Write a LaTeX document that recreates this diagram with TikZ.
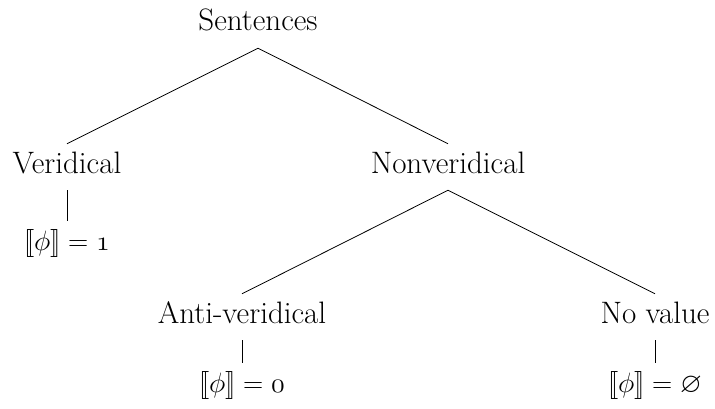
\RequirePackage{fix-cm}
\documentclass[tikz,border=0pt]{standalone}
\usepackage{amssymb}
\usepackage{fontspec}
\setmainfont{Latin Modern Roman}
\newcommand{\dbl}{\mathopen{[\mkern-2.6mu[}}
\newcommand{\dbr}{\mathclose{]\mkern-2.6mu]}}
\begin{document}
\begin{tikzpicture}[x=1pt,y=-1pt,
  lbl/.style={anchor=base, text height=20pt, text depth=8pt, inner sep=9pt,
    font=\fontsize{31}{36}\selectfont},
  val/.style={lbl, font=\fontsize{28}{34}\selectfont},
  edge/.style={draw=black, line width=0.8pt}]
\useasboundingbox (0,0) rectangle (715,409);
\node[lbl] (s) at (258,31) {Sentences};
\node[lbl] (v) at (67,173) {Veridical};
\node[lbl] (n) at (448,173) {Nonveridical};
\node[val] (v1) at (67,250) {$\dbl\phi\dbr = \mathnormal{1}$};
\node[lbl] (a) at (242,323) {Anti-veridical};
\node[lbl] (nv) at (655,323) {No value};
\node[val] (a0) at (242,392) {$\dbl\phi\dbr = \mathnormal{0}$};
\node[val] (nv0) at (655,392) {$\dbl\phi\dbr = \varnothing$};
\draw[edge] (s.south) -- (v.north);
\draw[edge] (s.south) -- (n.north);
\draw[edge] (n.south) -- (a.north);
\draw[edge] (n.south) -- (nv.north);
\draw[edge] (v.south) -- (v1.north);
\draw[edge] (a.south) -- (a0.north);
\draw[edge] (nv.south) -- (nv0.north);
\end{tikzpicture}
\end{document}
